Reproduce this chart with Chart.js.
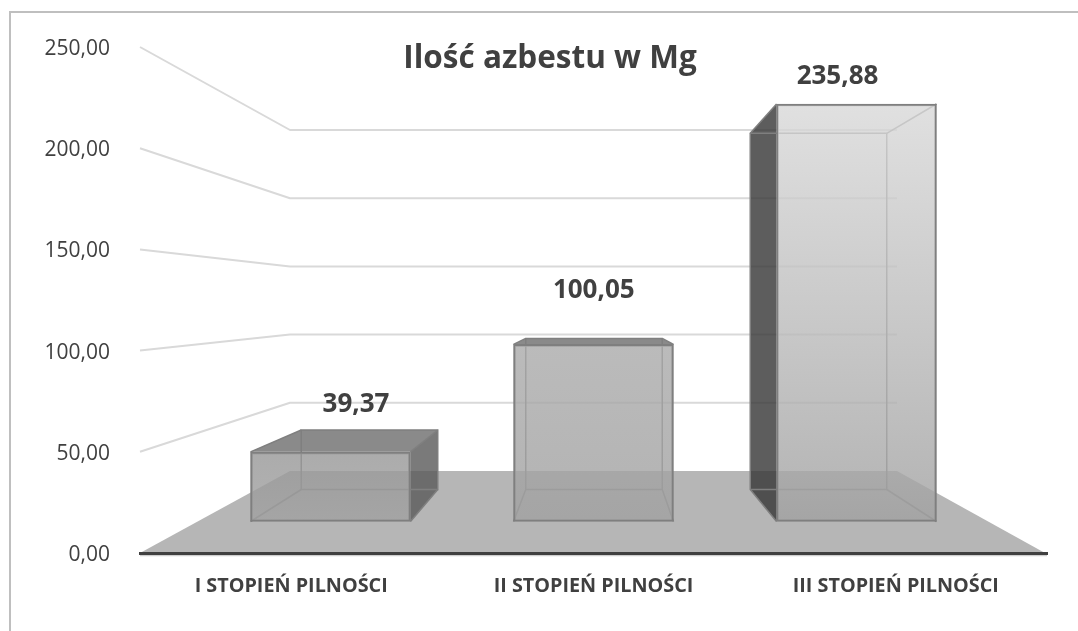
<!DOCTYPE html>
<html lang="pl">
<head>
<meta charset="utf-8">
<title>Ilość azbestu w Mg</title>
<style>html,body{margin:0;padding:0;background:#fff}canvas{display:block}</style>
<script src="https://cdn.jsdelivr.net/npm/chart.js@4/dist/chart.umd.js"></script>
</head>
<body>
<canvas id="c" width="1078" height="631"></canvas>
<script>
const chartTitle = 'Ilość azbestu w Mg';
const categories = ['I STOPIEŃ PILNOŚCI', 'II STOPIEŃ PILNOŚCI', 'III STOPIEŃ PILNOŚCI'];
const values = [39.37, 100.05, 235.88];
const axisMin = 0;
const axisMax = 250;
const axisStep = 50;

const FONT = '"Open Sans", sans-serif';
const TEXT = '#404040';
const EDGE = '#7f7f7f';
const AREA_TOP = 47, AREA_BOTTOM = 553, AREA_LEFT = 140, AREA_RIGHT = 1047;
const WALL_LEFT = 290, WALL_RIGHT = 897, FLOOR_RIGHT = 1045;
const BAR_ALPHA = 0.81;
const barTopShades = [152, 171, 217];
const BAR_BOTTOM_SHADE = 161;
const labelLift = [25, 48, 27];
const labelShift = [6, 0, 0];
const BAR_UNITS = 0.608;

function yRange(zeroPx, ppu) {
  return { min: (zeroPx - AREA_BOTTOM) / ppu, max: (zeroPx - AREA_TOP) / ppu };
}
function xRange(zeroPx, ppu) {
  return { min: (AREA_LEFT - zeroPx) / ppu, max: (AREA_RIGHT - zeroPx) / ppu };
}
function hidden(type, position, range) {
  return Object.assign({ type, position, display: false, offset: false, grid: { display: false } }, range);
}
const fmt = v => v.toFixed(2).replace('.', ',');
const grey = (s, a) => `rgba(${s},${s},${s},${a})`;

function poly(ctx, pts, fill, stroke, w) {
  ctx.beginPath();
  pts.forEach((p, i) => i ? ctx.lineTo(p[0], p[1]) : ctx.moveTo(p[0], p[1]));
  ctx.closePath();
  if (fill) { ctx.fillStyle = fill; ctx.fill(); }
  if (stroke) { ctx.strokeStyle = stroke; ctx.lineWidth = w; ctx.stroke(); }
}
function line(ctx, pts, color, w) {
  ctx.beginPath();
  pts.forEach((p, i) => i ? ctx.lineTo(p[0], p[1]) : ctx.moveTo(p[0], p[1]));
  ctx.strokeStyle = color; ctx.lineWidth = w; ctx.lineJoin = 'round'; ctx.stroke();
}

const scene = {
  id: 'scene',
  afterLayout(chart) {
    // centre the title over the plot as in the reference
    chart.titleBlock.left = 22;
    chart.titleBlock.right = chart.width;
  },
  beforeDraw(chart) {
    const ctx = chart.ctx, s = chart.scales;
    ctx.save();
    ctx.fillStyle = '#fff';
    ctx.fillRect(0, 0, chart.width, chart.height);
    ctx.strokeStyle = '#bfbfbf';
    ctx.lineWidth = 2;
    ctx.strokeRect(10, 12, chart.width + 20, chart.height + 20);
    // floor
    const backY = s.yWall.getPixelForValue(0), frontY = s.y.getPixelForValue(0);
    poly(ctx, [[AREA_LEFT, frontY], [WALL_LEFT, backY], [WALL_RIGHT, backY], [FLOOR_RIGHT, frontY]], '#b6b6b6');
    line(ctx, [[AREA_LEFT, frontY + 2.5], [AREA_RIGHT, frontY + 2.5]], '#cfcfcf', 1.5);
    // wall gridlines
    s.y.ticks.forEach(t => {
      if (t.value === 0) return;
      const y0 = s.y.getPixelForValue(t.value), y1 = s.yWall.getPixelForValue(t.value);
      line(ctx, [[AREA_LEFT, y0], [WALL_LEFT, y1], [WALL_RIGHT, y1]], '#d9d9d9', 2);
    });
    ctx.restore();
  },
  beforeDatasetsDraw(chart) {
    const ctx = chart.ctx, s = chart.scales;
    ctx.save();
    values.forEach((v, i) => {
      const fl = s.xFront.getPixelForValue(i - BAR_UNITS / 2), fr = s.xFront.getPixelForValue(i + BAR_UNITS / 2);
      const bl = s.xBack.getPixelForValue(i - BAR_UNITS / 2), br = s.xBack.getPixelForValue(i + BAR_UNITS / 2);
      const ft = s.yFront.getPixelForValue(v), fb = s.yFront.getPixelForValue(0);
      const bt = s.yBack.getPixelForValue(v), bb = s.yBack.getPixelForValue(0);
      if (bt < ft) poly(ctx, [[fl, ft], [fr, ft], [br, bt], [bl, bt]], grey(111, BAR_ALPHA));
      if (bl < fl) poly(ctx, [[fl, ft], [bl, bt], [bl, bb], [fl, fb]], grey(56, BAR_ALPHA));
      if (br > fr) poly(ctx, [[fr, ft], [br, bt], [br, bb], [fr, fb]], grey(91, BAR_ALPHA));
      poly(ctx, [[bl, bt], [br, bt], [br, bb], [bl, bb]], null, EDGE, 1.5);
      line(ctx, [[fl, ft], [bl, bt]], EDGE, 1.5);
      line(ctx, [[fr, ft], [br, bt]], EDGE, 1.5);
      line(ctx, [[fl, fb], [bl, bb]], EDGE, 1.5);
      line(ctx, [[fr, fb], [br, bb]], EDGE, 1.5);
    });
    ctx.restore();
  },
  afterDatasetsDraw(chart) {
    const ctx = chart.ctx, s = chart.scales;
    ctx.save();
    ctx.font = `bold 26px ${FONT}`;
    ctx.fillStyle = TEXT;
    ctx.textAlign = 'center';
    ctx.textBaseline = 'middle';
    values.forEach((v, i) => {
      const x = (s.xFront.getPixelForValue(i) + s.xBack.getPixelForValue(i)) / 2 + labelShift[i];
      const y = Math.min(s.yFront.getPixelForValue(v), s.yBack.getPixelForValue(v)) - labelLift[i];
      ctx.fillText(fmt(v), x, y);
    });
    ctx.restore();
  }
};

new Chart(document.getElementById('c'), {
  type: 'bar',
  plugins: [scene],
  data: {
    labels: categories,
    datasets: [{
      label: chartTitle,
      data: values.map((v, i) => ({ x: i, y: v })),
      xAxisID: 'xFront',
      yAxisID: 'yFront',
      barThickness: 160,
      borderWidth: 2,
      borderSkipped: false,
      borderColor: EDGE,
      backgroundColor(ctx) {
        const i = ctx.dataIndex;
        const sc = ctx.chart.scales.yFront;
        const fallback = grey(170, BAR_ALPHA);
        if (i === undefined || !sc) return fallback;
        const y0 = sc.getPixelForValue(values[i]), y1 = sc.getPixelForValue(0);
        if (!Number.isFinite(y0) || !Number.isFinite(y1)) return fallback;
        const g = ctx.chart.ctx.createLinearGradient(0, y0, 0, y1);
        g.addColorStop(0, grey(barTopShades[i], BAR_ALPHA));
        g.addColorStop(1, grey(BAR_BOTTOM_SHADE, BAR_ALPHA));
        return g;
      }
    }]
  },
  options: {
    responsive: false,
    animation: false,
    layout: { padding: { left: 30, right: 31, top: 0, bottom: 0 } },
    plugins: {
      legend: { display: false },
      tooltip: { enabled: false },
      title: {
        display: true,
        text: chartTitle,
        color: TEXT,
        font: { family: FONT, size: 31.5, weight: 'bold', lineHeight: 1.2 },
        padding: { top: 40.5, bottom: -31.3 }
      }
    },
    scales: {
      x: {
        type: 'category',
        position: 'bottom',
        offset: true,
        grid: { display: false },
        border: { display: true, color: TEXT, width: 3 },
        ticks: { color: TEXT, padding: 13, maxRotation: 0, autoSkip: false, font: { family: FONT, size: 19.8, weight: 'bold' } },
        afterFit(sc) { sc.height = 631 - AREA_BOTTOM; }
      },
      y: {
        type: 'linear',
        position: 'left',
        min: axisMin,
        max: axisMax,
        grid: { display: false },
        border: { display: false },
        ticks: { stepSize: axisStep, color: TEXT, padding: 22, labelOffset: 2, font: { family: FONT, size: 21 }, callback: v => fmt(v) },
        afterFit(sc) { sc.width = 110; }
      },
      xFront: hidden('linear', 'bottom', xRange(330.5, 263)),
      xBack: hidden('linear', 'bottom', xRange(369.5, 224.5)),
      yFront: hidden('linear', 'left', yRange(521.5, 1.77)),
      yBack: hidden('linear', 'left', yRange(489.5, 1.51)),
      yWall: hidden('linear', 'left', yRange(471, 1.364))
    }
  }
});
</script>
</body>
</html>
